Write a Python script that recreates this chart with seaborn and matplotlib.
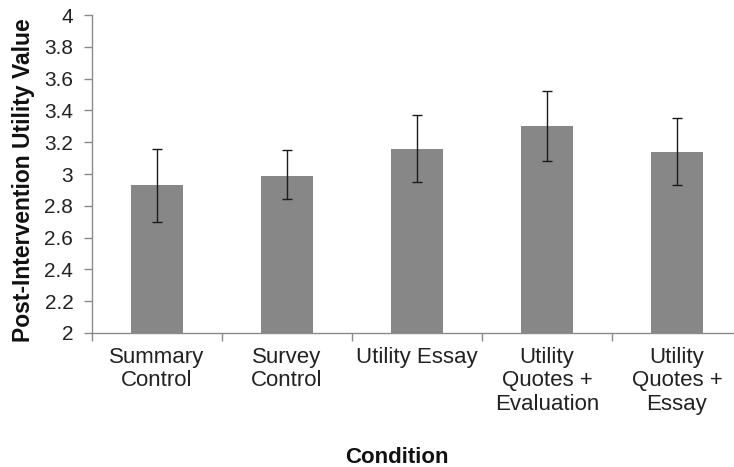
import numpy as np
import pandas as pd
import matplotlib
matplotlib.use('Agg')
import matplotlib.pyplot as plt
import seaborn as sns

conditions = ['Summary\nControl', 'Survey\nControl', 'Utility Essay',
              'Utility\nQuotes +\nEvaluation', 'Utility\nQuotes +\nEssay']
means = [2.93, 2.99, 3.16, 3.30, 3.14]
err_low = [2.70, 2.84, 2.95, 3.08, 2.93]
err_high = [3.16, 3.15, 3.37, 3.52, 3.35]

df = pd.DataFrame({'Condition': conditions, 'Value': means})

sns.set_theme(style='white')
plt.rcParams['font.family'] = ['Liberation Sans', 'DejaVu Sans']

fig = plt.figure(figsize=(7.34, 4.67), dpi=100)
ax = fig.add_axes([92 / 734, 1 - 333 / 467, 650 / 734, 318 / 467])

sns.barplot(data=df, x='Condition', y='Value', color='#878787', width=0.4,
            errorbar=None, ax=ax, saturation=1)
for p in ax.patches:
    p.set_edgecolor('none')

pos = np.arange(len(means))
lower = np.array(means) - np.array(err_low)
upper = np.array(err_high) - np.array(means)
ax.errorbar(pos, means, yerr=[lower, upper], fmt='none', ecolor='#1a1a1a',
            elinewidth=1, capsize=3.5, capthick=1)

ax.set_ylim(2, 4)
ax.set_xlim(-0.5, 4.5)
ax.set_yticks(np.arange(2, 4.01, 0.2))
ax.set_yticklabels(['2', '2.2', '2.4', '2.6', '2.8', '3', '3.2', '3.4', '3.6', '3.8', '4'])

ax.set_xticks(pos)
ax.set_xticklabels(conditions, fontsize=16, color='#222222', linespacing=1.15)
ax.set_xticks(np.arange(-0.5, 4.6, 1), minor=True)
ax.tick_params(axis='x', which='major', bottom=True, length=0, pad=10)
ax.tick_params(axis='x', which='minor', bottom=True, length=6, width=1,
               color='#8a8a8a', direction='out')
ax.tick_params(axis='y', left=True, length=6, width=1, color='#8a8a8a', direction='out',
               labelsize=15, labelcolor='#222222', pad=7.5)

for s in ['top', 'right']:
    ax.spines[s].set_visible(False)
for s in ['left', 'bottom']:
    ax.spines[s].set_color('#8a8a8a')
    ax.spines[s].set_linewidth(1)

ax.set_xlabel('Condition', fontsize=16, fontweight='bold', color='#111111')
ax.xaxis.set_label_coords(0.469, -0.36)
ax.set_ylabel('Post-Intervention Utility Value', fontsize=16.5, fontweight='bold', color='#111111')
ax.yaxis.set_label_coords(-0.088, 0.48)

fig.savefig('out.png', dpi=100)
